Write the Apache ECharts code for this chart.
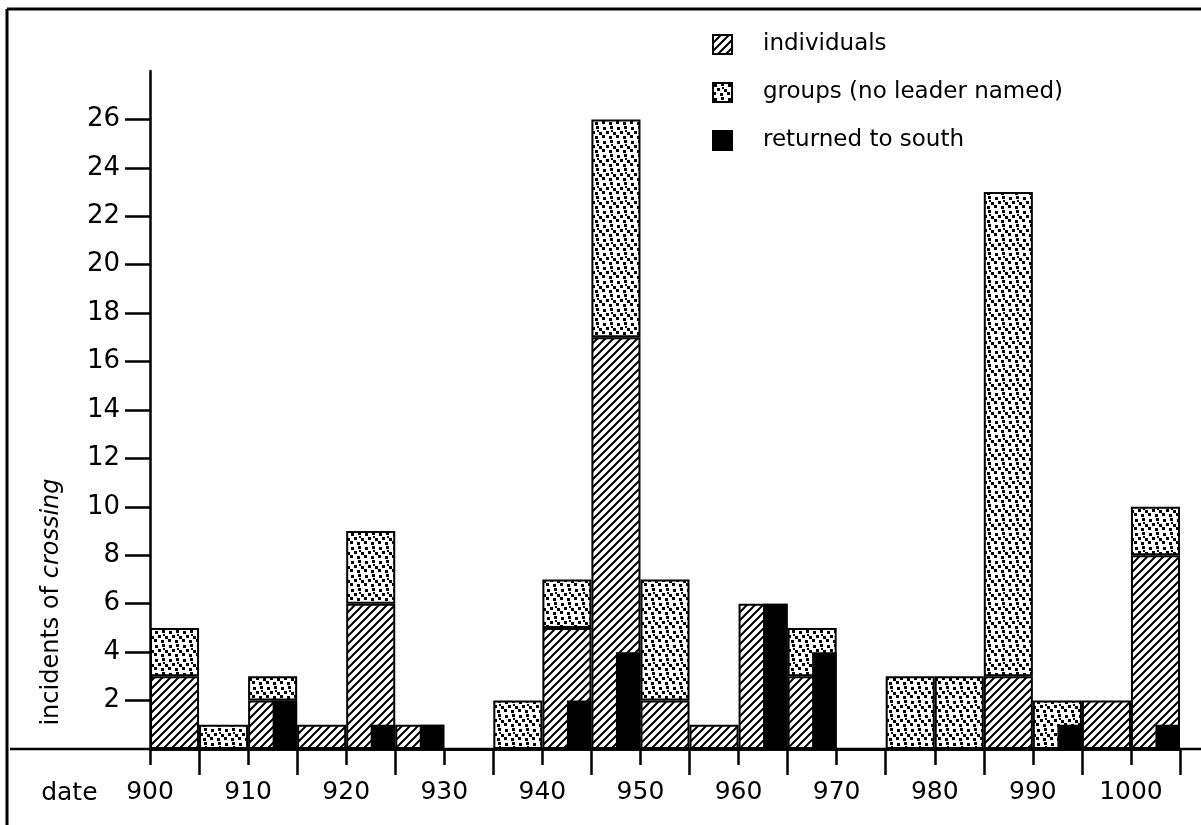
<!DOCTYPE html>
<html>
<head>
<meta charset="utf-8">
<script src="https://cdn.jsdelivr.net/npm/echarts@6/dist/echarts.min.js"></script>
<style>
html, body { margin: 0; padding: 0; background: #fff; }
#chart { width: 1201px; height: 825px; }
</style>
</head>
<body>
<div id="chart"></div>
<script>
// each bar covers a 5-year period starting at the given year
const periods = ['900', '905', '910', '915', '920', '925', '930', '935', '940', '945', '950',
    '955', '960', '965', '970', '975', '980', '985', '990', '995', '1000'];
const individuals = [3, 0, 2, 1, 6, 1, 0, 0, 5, 17, 2, 1, 6, 3, 0, 0, 0, 3, 0, 2, 8];
const groups = [2, 1, 1, 0, 3, 0, 0, 2, 2, 9, 5, 0, 0, 2, 0, 3, 3, 20, 2, 0, 2];
const returned = [0, 0, 2, 0, 1, 1, 0, 0, 2, 4, 0, 0, 6, 4, 0, 0, 0, 0, 1, 0, 1];
const yTicks = [2, 4, 6, 8, 10, 12, 14, 16, 18, 20, 22, 24, 26];
const halfTicks = [905, 915, 925, 935, 945, 955, 965, 975, 985, 995, 1005];

const FONT = 'DejaVu Sans';
const GRID = { left: 150, right: 21, top: 71, bottom: 76, outerBoundsMode: 'none' };
const axisY = 825 - GRID.bottom;

function hatchPattern() {
    const s = 8;
    const c = document.createElement('canvas');
    c.width = s; c.height = s;
    const ctx = c.getContext('2d');
    ctx.fillStyle = '#fff';
    ctx.fillRect(0, 0, s, s);
    ctx.strokeStyle = '#000';
    ctx.lineWidth = 2;
    ctx.beginPath();
    ctx.moveTo(-1, 1); ctx.lineTo(1, -1);
    ctx.moveTo(0, s); ctx.lineTo(s, 0);
    ctx.moveTo(s - 1, s + 1); ctx.lineTo(s + 1, s - 1);
    ctx.stroke();
    return { image: c, repeat: 'repeat' };
}

function dotPattern() {
    const s = 14;
    const c = document.createElement('canvas');
    c.width = s; c.height = s;
    const ctx = c.getContext('2d');
    ctx.fillStyle = '#fff';
    ctx.fillRect(0, 0, s, s);
    ctx.fillStyle = '#000';
    [[1, 1, 3, 3], [8, 0, 3, 3], [4, 5, 3, 3], [11, 6, 3, 3], [0, 9, 3, 3], [7, 10, 3, 3], [9, 4, 2, 2]]
        .forEach(function (d) { ctx.fillRect(d[0], d[1], d[2], d[3]); });
    return { image: c, repeat: 'repeat' };
}

function noZero(arr) {
    return arr.map(function (v) { return v === 0 ? '-' : v; });
}

const chart = echarts.init(document.getElementById('chart'));

const barBorder = { borderColor: '#000', borderWidth: 2 };
const axisLineStyle = { color: '#000', width: 2.5 };

const option = {
    backgroundColor: '#fff',
    animation: false,
    textStyle: { fontFamily: FONT, color: '#000' },
    grid: GRID,
    legend: {
        orient: 'vertical',
        left: 707,
        top: 28,
        itemWidth: 19,
        itemHeight: 19,
        itemGap: 25,
        icon: 'rect',
        textStyle: { fontFamily: FONT, fontSize: 23, color: '#000', padding: [0, 0, 0, 26] },
        data: ['individuals', 'groups (no leader named)', 'returned to south']
    },
    xAxis: [
        {
            type: 'category',
            data: periods,
            show: false
        },
        {
            type: 'value',
            min: 900,
            max: 1005,
            position: 'bottom',
            axisLine: { show: true, lineStyle: axisLineStyle },
            axisTick: { show: true, customValues: halfTicks, length: 26, lineStyle: axisLineStyle },
            axisLabel: { show: false },
            splitLine: { show: false }
        },
        {
            type: 'value',
            min: 900,
            max: 1005,
            interval: 10,
            position: 'bottom',
            name: '\ndate',
            nameLocation: 'start',
            nameGap: 48,
            nameTextStyle: { fontFamily: FONT, fontSize: 25, color: '#000', verticalAlign: 'middle', lineHeight: 88 },
            axisLine: { show: true, lineStyle: axisLineStyle },
            axisTick: { show: true, length: 16, lineStyle: axisLineStyle },
            axisLabel: {
                formatter: function (v) { return v % 10 === 0 ? String(v) : ''; },
                showMaxLabel: false,
                fontFamily: FONT,
                fontSize: 25,
                color: '#000',
                margin: 31
            },
            splitLine: { show: false }
        }
    ],
    yAxis: {
        type: 'value',
        min: 0,
        max: 28,
        name: 'incidents of {it|crossing}',
        nameLocation: 'middle',
        nameRotate: 90,
        nameGap: 86,
        nameTextStyle: {
            fontFamily: FONT,
            fontSize: 24,
            color: '#000',
            padding: [0, 384, 0, 0],
            rich: { it: { fontFamily: FONT, fontSize: 24, fontStyle: 'italic', color: '#000' } }
        },
        axisLine: { show: true, lineStyle: axisLineStyle },
        axisTick: { show: true, customValues: yTicks, length: 25, lineStyle: axisLineStyle },
        axisLabel: { customValues: yTicks, fontFamily: FONT, fontSize: 26, color: '#000', margin: 30 },
        splitLine: { show: false }
    },
    series: [
        {
            name: 'individuals',
            type: 'bar',
            stack: 'total',
            xAxisIndex: 0,
            barWidth: '100%',
            barGap: '-50%',
            itemStyle: Object.assign({ color: hatchPattern() }, barBorder),
            data: noZero(individuals)
        },
        {
            name: 'groups (no leader named)',
            type: 'bar',
            stack: 'total',
            xAxisIndex: 0,
            barWidth: '100%',
            barGap: '-50%',
            itemStyle: Object.assign({ color: dotPattern() }, barBorder),
            data: noZero(groups)
        },
        {
            name: 'returned to south',
            type: 'bar',
            xAxisIndex: 0,
            barWidth: '50%',
            barGap: '-50%',
            z: 3,
            itemStyle: Object.assign({ color: '#000' }, barBorder),
            data: noZero(returned)
        }
    ],
    graphic: [
        { type: 'line', shape: { x1: 7, y1: 9, x2: 1201, y2: 9 }, style: { stroke: '#000', lineWidth: 3 } },
        { type: 'line', shape: { x1: 7, y1: 9, x2: 7, y2: 825 }, style: { stroke: '#000', lineWidth: 3 } },
        { type: 'line', shape: { x1: 10, y1: axisY, x2: 1201, y2: axisY }, style: { stroke: '#000', lineWidth: 2.5 } }
    ]
};

chart.setOption(option);
</script>
</body>
</html>
